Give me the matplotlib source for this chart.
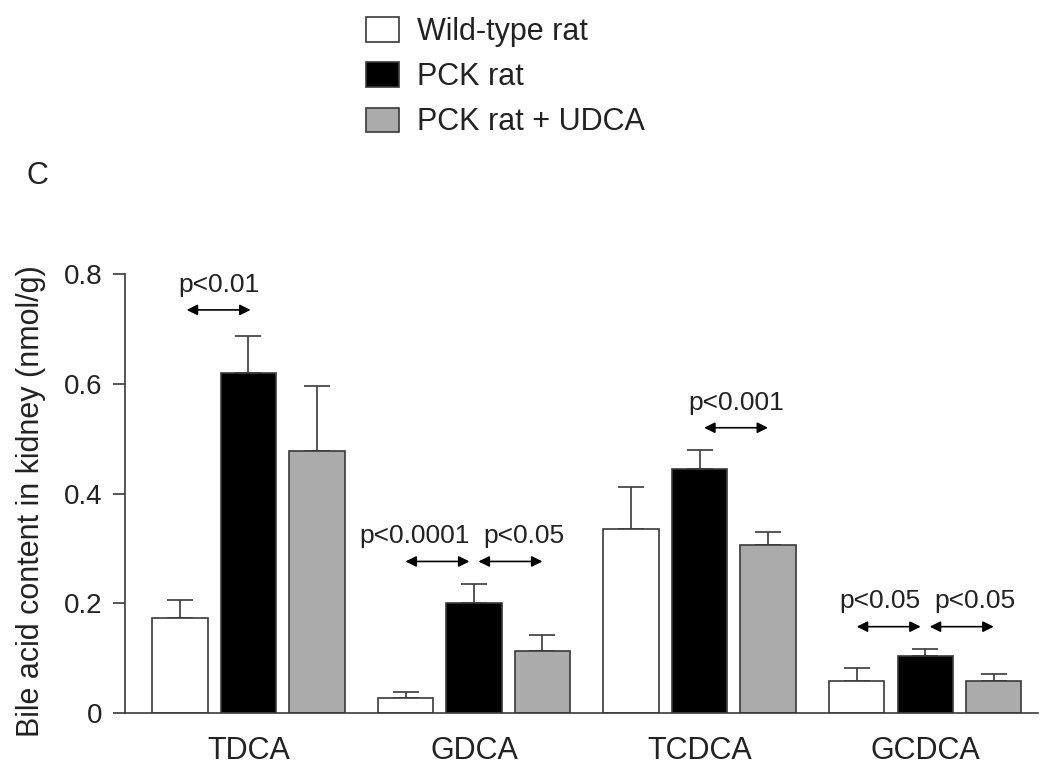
import numpy as np
import matplotlib
matplotlib.use("Agg")
import matplotlib.pyplot as plt

plt.rcParams['font.family'] = ['Liberation Sans', 'DejaVu Sans']

# data
acids = ["TDCA", "GDCA", "TCDCA", "GCDCA"]
groups = ["Wild-type rat", "PCK rat", "PCK rat + UDCA"]
wild_mean = [0.173, 0.027, 0.336, 0.058]
wild_err = [0.033, 0.010, 0.075, 0.023]
pck_mean = [0.619, 0.201, 0.445, 0.104]
pck_err = [0.068, 0.033, 0.035, 0.013]
udca_mean = [0.478, 0.112, 0.306, 0.058]
udca_err = [0.119, 0.030, 0.024, 0.013]

# significance arrows: acid index, from bar, to bar, label, arrow height
sig_acid = [0, 1, 1, 2, 3, 3]
sig_from = [0, 0, 1, 1, 0, 1]
sig_to = [1, 1, 2, 2, 1, 2]
sig_text = ["p<0.01", "p<0.0001", "p<0.05", "p<0.001", "p<0.05", "p<0.05"]
sig_y = [0.735, 0.276, 0.276, 0.520, 0.157, 0.157]

means = [wild_mean, pck_mean, udca_mean]
errs = [wild_err, pck_err, udca_err]
fills = ["white", "black", "#ababab"]
edge = "#3a3a3a"
txt = "#222222"

fig = plt.figure(figsize=(10.5, 7.69), dpi=100)
ax = fig.add_axes([0.119, 0.0732, 0.8696, 0.5701])

x = np.arange(len(acids))
w = 0.2455
step = 0.3035
for i in range(3):
    pos = x + (i - 1) * step
    ax.bar(pos, means[i], width=w, color=fills[i], edgecolor=edge,
           linewidth=1.2, label=groups[i], zorder=2)
    ax.errorbar(pos, means[i], yerr=[np.zeros(len(acids)), errs[i]],
                fmt="none", ecolor=edge, elinewidth=1.2, capsize=9.5,
                capthick=1.2, zorder=1)

# significance arrows and labels
pairs = [sig_acid.count(a) for a in sig_acid]
for a, f, t, s, y, n in zip(sig_acid, sig_from, sig_to, sig_text, sig_y, pairs):
    x0 = a + (f - 1) * step
    x1 = a + (t - 1) * step
    if t == 1:
        x1 -= 0.02
    if f == 1:
        x0 += 0.02
    if n == 1 and f == 0:
        # lone arrow over the first pair sits a little to the right
        x0 += 0.03
        x1 += 0.03
    ax.annotate("", xy=(x1, y), xytext=(x0, y),
                arrowprops=dict(arrowstyle="<|-|>", color="black", lw=1.2,
                                mutation_scale=16, shrinkA=0, shrinkB=0))
    if n == 1:
        tx, ha = (x0 + x1) / 2, "center"
    elif f == 0:
        tx, ha = x1, "right"
    else:
        tx, ha = x0 + 0.02, "left"
    ax.text(tx, y + 0.046, s, ha=ha, va="center", fontsize=19,
            color=txt, clip_on=False)

ax.set_xlim(-0.547, 3.5)
ax.set_ylim(0, 0.8)
ax.set_xticks(x)
ax.set_xticklabels(acids)
ax.set_yticks([0, 0.2, 0.4, 0.6, 0.8])
ax.set_yticklabels(["0", "0.2", "0.4", "0.6", "0.8"])
ax.tick_params(axis="x", length=0, pad=16.5, labelsize=22, labelcolor=txt)
ax.tick_params(axis="y", length=8.5, width=1.2, color=edge, pad=8,
               labelsize=20, labelcolor=txt)
for side in ["top", "right"]:
    ax.spines[side].set_visible(False)
for side in ["left", "bottom"]:
    ax.spines[side].set_color(edge)
    ax.spines[side].set_linewidth(1.2)

ax.set_ylabel("Bile acid content in kidney (nmol/g)", fontsize=22, color=txt)
ax.yaxis.set_label_coords(-0.086, 0.482)

fig.text(0.025, 0.771, "C", fontsize=22, color=txt, va="center")

leg = fig.legend(loc="upper left", bbox_to_anchor=(0.349, 0.978),
                 frameon=False, fontsize=22, borderpad=0, borderaxespad=0,
                 handlelength=1.08, handleheight=0.85, handletextpad=0.56,
                 labelspacing=0.50)
for t in leg.get_texts():
    t.set_color(txt)

fig.savefig("out.png", dpi=100)
